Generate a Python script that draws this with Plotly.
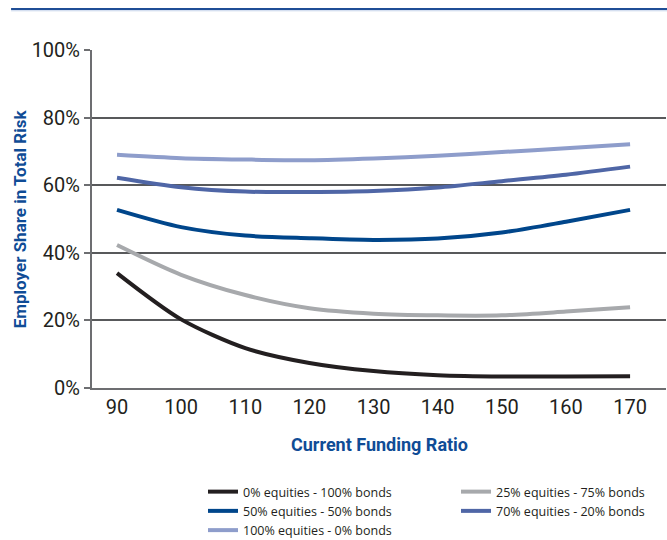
import plotly.graph_objects as go

funding_ratio = [90, 100, 110, 120, 130, 140, 150, 160, 170]

eq0_bonds100 = [34.0, 20.3, 11.8, 7.4, 5.0, 3.8, 3.4, 3.4, 3.5]
eq25_bonds75 = [42.3, 33.5, 27.5, 23.6, 22.0, 21.5, 21.5, 22.6, 23.9]
eq50_bonds50 = [52.7, 47.6, 45.1, 44.3, 43.8, 44.2, 46.0, 49.2, 52.7]
eq70_bonds20 = [62.2, 59.4, 58.1, 58.0, 58.3, 59.3, 61.2, 63.1, 65.5]
eq100_bonds0 = [69.0, 68.0, 67.6, 67.4, 67.9, 68.7, 69.8, 70.9, 72.1]

series_names = [
    "0% equities - 100% bonds",
    "25% equities - 75% bonds",
    "50% equities - 50% bonds",
    "70% equities - 20% bonds",
    "100% equities - 0% bonds",
]
series_values = [eq0_bonds100, eq25_bonds75, eq50_bonds50, eq70_bonds20, eq100_bonds0]
series_colors = ["#231f20", "#a7a9ac", "#00468b", "#4f66a6", "#8e9dcb"]
series_legend = ["legend", "legend2", "legend", "legend2", "legend"]

y_tick_vals = [0, 20, 40, 60, 80, 100]
y_tick_text = ["0%", "20%", "40%", "60%", "80%", "100%"]

FONT = "Liberation Sans Narrow, Arial Narrow, Roboto, sans-serif"
BLUE = "#0f4c96"
LEG_FONT = dict(size=12.5, family="Open Sans, Arial, sans-serif", color="#231f20")

fig = go.Figure()
for name, vals, col, leg in zip(series_names, series_values, series_colors, series_legend):
    fig.add_trace(go.Scatter(
        x=funding_ratio, y=vals, name=name, mode="lines", legend=leg,
        line=dict(color=col, width=4, shape="spline", smoothing=0.8),
    ))

fig.update_layout(
    width=667, height=540,
    margin=dict(l=92, r=1, t=50, b=152, autoexpand=False),
    paper_bgcolor="white", plot_bgcolor="white",
    font=dict(family=FONT, color="#231f20"),
    showlegend=True,
    legend=dict(
        orientation="v", xref="container", yref="container",
        x=203 / 667, xanchor="left", y=1 - 477 / 540, yanchor="top",
        font=LEG_FONT, tracegroupgap=0, itemwidth=30, bgcolor="rgba(0,0,0,0)",
    ),
    legend2=dict(
        orientation="v", xref="container", yref="container",
        x=456 / 667, xanchor="left", y=1 - 477 / 540, yanchor="top",
        font=LEG_FONT, tracegroupgap=0, itemwidth=30, bgcolor="rgba(0,0,0,0)",
    ),
    xaxis=dict(
        range=[86.1, 175.6], tickvals=funding_ratio,
        showgrid=False, zeroline=False,
        showline=True, linecolor="#6d6e71", linewidth=2,
        ticks="", tickfont=dict(size=20, color="#231f20"),
    ),
    yaxis=dict(
        range=[0, 100], tickvals=y_tick_vals, ticktext=y_tick_text,
        showgrid=True, gridcolor="#58595b", gridwidth=1.5,
        zeroline=False,
        showline=True, linecolor="#6d6e71", linewidth=2,
        ticks="outside", ticklen=6, tickcolor="#6d6e71", tickwidth=1.5,
        tickfont=dict(size=20, color="#231f20"),
    ),
    annotations=[
        dict(text="<b>Employer Share in Total Risk</b>", textangle=-90,
             xref="paper", yref="paper", x=-0.125, y=0.5, xanchor="center", yanchor="middle",
             showarrow=False, font=dict(size=17, color=BLUE)),
        dict(text="<b>Current Funding Ratio</b>",
             xref="paper", yref="paper", x=0.5, y=-0.168, xanchor="center", yanchor="middle",
             showarrow=False, font=dict(size=18, color=BLUE)),
    ],
    shapes=[
        dict(type="line", xref="paper", yref="paper", x0=-0.141, x1=1.002, y0=1.121, y1=1.121,
             line=dict(color="#1f4e96", width=2)),
        dict(type="line", xref="paper", yref="paper", x0=-0.141, x1=1.002, y0=1.116, y1=1.116,
             line=dict(color="#c5d3ea", width=1)),
    ],
)

fig.write_html("out.html", config={"displayModeBar": False},
               post_script="document.body.style.margin='0';document.body.style.padding='0';")
